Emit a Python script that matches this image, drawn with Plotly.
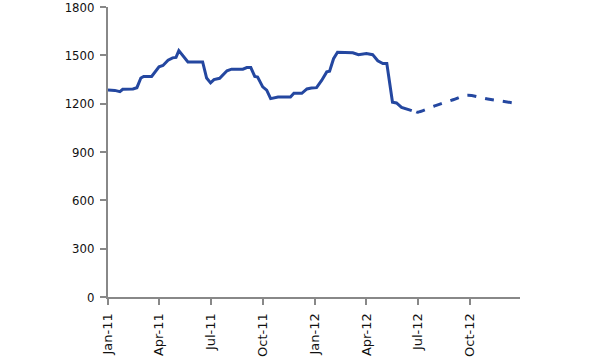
import plotly.graph_objects as go

# Actual (solid) series
actual_dates = [
    "2011-01-01", "2011-01-13", "2011-01-22", "2011-01-27", "2011-02-14", "2011-02-21",
    "2011-02-28", "2011-03-05", "2011-03-19", "2011-04-01", "2011-04-08", "2011-04-17",
    "2011-04-25", "2011-05-01", "2011-05-06", "2011-05-13", "2011-05-22", "2011-06-17",
    "2011-06-24", "2011-07-01", "2011-07-07", "2011-07-17", "2011-07-30", "2011-08-07",
    "2011-08-27", "2011-09-03", "2011-09-10", "2011-09-17", "2011-09-22", "2011-10-01",
    "2011-10-08", "2011-10-15", "2011-10-22", "2011-10-28", "2011-11-19", "2011-11-25",
    "2011-12-09", "2011-12-18", "2011-12-26", "2012-01-04", "2012-01-13", "2012-01-22",
    "2012-01-27", "2012-02-03", "2012-02-10", "2012-03-02", "2012-03-08", "2012-03-18",
    "2012-04-01", "2012-04-12", "2012-04-21", "2012-04-30", "2012-05-07", "2012-05-17",
    "2012-05-24", "2012-06-02", "2012-06-11", "2012-06-20",
]
actual_values = [
    1285, 1283, 1275, 1290, 1292, 1300,
    1360, 1370, 1370, 1430, 1438, 1470,
    1485, 1488, 1530, 1496, 1460, 1460,
    1360, 1330, 1350, 1358, 1405, 1415,
    1415, 1425, 1425, 1370, 1366, 1305,
    1285, 1232, 1237, 1242, 1242, 1265,
    1265, 1292, 1298, 1300, 1345, 1398,
    1402, 1480, 1520, 1520, 1517, 1505,
    1512, 1505, 1467, 1450, 1450, 1210,
    1205, 1178, 1165, 1157,
]

# Forecast (dashed) series
forecast_dates = ["2012-06-28", "2012-07-01", "2012-08-01", "2012-09-01",
                  "2012-09-25", "2012-11-01", "2012-12-15"]
forecast_values = [1150, 1148, 1188, 1225, 1252, 1230, 1206]

y_ticks = [0, 300, 600, 900, 1200, 1500, 1800]

line_color = "#2447a0"

fig = go.Figure()
fig.add_trace(go.Scatter(x=actual_dates, y=actual_values, mode="lines",
                         line=dict(color=line_color, width=3), showlegend=False))
fig.add_trace(go.Scatter(x=forecast_dates, y=forecast_values, mode="lines",
                         line=dict(color=line_color, width=3, dash="dash", shape="spline"),
                         showlegend=False))

fig.update_layout(
    width=600, height=360,
    margin=dict(l=108, r=80, t=7, b=63),
    plot_bgcolor="white", paper_bgcolor="white",
    xaxis=dict(
        range=["2011-01-01", "2012-12-28"],
        tickmode="linear", tick0="2011-01-01", dtick="M3",
        tickformat="%b-%y", tickangle=-90, automargin=False,
        ticklabeloverflow="allow", ticklabelstandoff=3,
        showline=True, linecolor="#888888", linewidth=2,
        ticks="outside", ticklen=6, tickcolor="#888888", tickwidth=2,
        showgrid=False, zeroline=False,
        tickfont=dict(family="DejaVu Sans", size=13, color="#111111"),
    ),
    yaxis=dict(
        range=[0, 1801], tickvals=y_ticks, automargin=False,
        ticklabeloverflow="allow", ticklabelstandoff=3,
        showline=True, linecolor="#888888", linewidth=2,
        ticks="outside", ticklen=6, tickcolor="#888888", tickwidth=2,
        showgrid=False, zeroline=False,
        tickfont=dict(family="DejaVu Sans Condensed, DejaVu Sans", size=13, color="#111111"),
    ),
)

fig.write_html("out.html", config={"displayModeBar": False},
               post_script="document.body.style.margin='0';document.body.style.overflow='hidden';")
